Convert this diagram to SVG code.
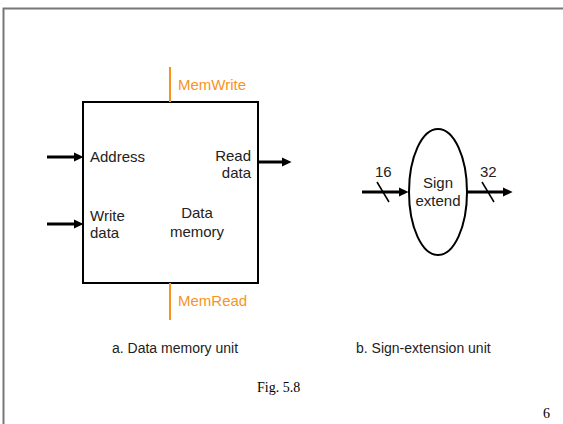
<svg xmlns="http://www.w3.org/2000/svg" width="563" height="424" viewBox="0 0 563 424">
<defs>
<marker id="ah" markerWidth="4" markerHeight="4" refX="1" refY="2" orient="auto" markerUnits="strokeWidth">
<path d="M0,0.5 L3.2,2 L0,3.5 Z" fill="#000"/>
</marker>
<style>
.t{font-family:"Liberation Sans",Arial,sans-serif;font-size:15px;fill:#222}
.cap{font-family:"Liberation Sans",Arial,sans-serif;font-size:14px;fill:#222}
.o{font-family:"Liberation Sans",Arial,sans-serif;font-size:15px;fill:#f7941d}
.s{font-family:"Liberation Serif","Times New Roman",serif;font-size:14px;fill:#000}
.w{stroke:#000;stroke-width:3;fill:none}
.c{stroke:#f7941d;stroke-width:2;fill:none}
.k{stroke:#000;stroke-width:1.5;fill:none}
</style>
</defs>
<rect width="563" height="424" fill="#fff"/>
<path d="M3.5,424 V8.5 H563" stroke="#777" stroke-width="2" fill="none"/>
<g id="data-memory">
<rect x="83" y="102" width="175" height="181" fill="#fff" stroke="#000" stroke-width="2"/>
<text class="t" x="90" y="162">Address</text>
<text class="t" x="251" y="161" text-anchor="end">Read</text>
<text class="t" x="251" y="178" text-anchor="end">data</text>
<text class="t" x="90" y="221">Write</text>
<text class="t" x="90" y="238">data</text>
<text class="t" x="197" y="218" text-anchor="middle">Data</text>
<text class="t" x="197" y="237" text-anchor="middle">memory</text>
</g>
<g id="sign-extend">
<ellipse cx="438" cy="192" rx="29" ry="63" fill="#fff" stroke="#000" stroke-width="2"/>
<text class="t" x="438" y="188" text-anchor="middle">Sign</text>
<text class="t" x="438" y="206" text-anchor="middle">extend</text>
</g>
<g id="connectors">
<line class="c" x1="170" y1="67" x2="170" y2="102"/>
<text class="o" x="178" y="90">MemWrite</text>
<line class="c" x1="170" y1="283" x2="170" y2="320"/>
<text class="o" x="178" y="306">MemRead</text>
<line class="w" x1="47" y1="157" x2="77" y2="157" marker-end="url(#ah)"/>
<line class="w" x1="47" y1="224" x2="77" y2="224" marker-end="url(#ah)"/>
<line class="w" x1="258" y1="162" x2="285" y2="162" marker-end="url(#ah)"/>
<line class="w" x1="362" y1="192" x2="402" y2="192" marker-end="url(#ah)"/>
<line class="w" x1="467" y1="192" x2="506" y2="192" marker-end="url(#ah)"/>
<line class="k" x1="377" y1="182" x2="389" y2="202"/>
<line class="k" x1="482" y1="182" x2="494" y2="202"/>
<text class="t" x="375" y="177">16</text>
<text class="t" x="480" y="177">32</text>
</g>
<text class="cap" x="112" y="353">a. Data memory unit</text>
<text class="cap" x="356" y="353">b. Sign-extension unit</text>
<text class="s" x="257" y="392">Fig. 5.8</text>
<text class="s" x="543" y="418">6</text>
</svg>
